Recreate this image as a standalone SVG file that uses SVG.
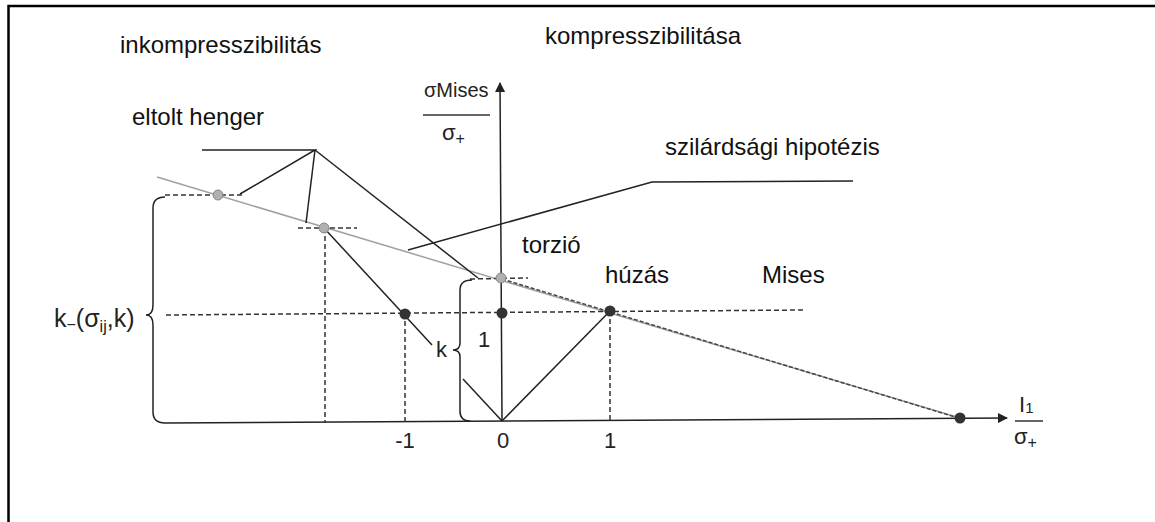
<svg xmlns="http://www.w3.org/2000/svg" width="1155" height="522" viewBox="0 0 1155 522">
<defs>
<style>
.t{font-family:"Liberation Sans",Arial,sans-serif;font-size:24px;fill:#111}
.m{font-family:"Liberation Sans",Arial,sans-serif;font-size:22px;fill:#222}
.s{stroke:#222;stroke-width:1.5;fill:none}
.d{stroke:#333;stroke-width:1.5;fill:none;stroke-dasharray:5 3}
.g{stroke:#a0a0a0;stroke-width:1.5;fill:none}
.dot{fill:#333}
.gdot{fill:#b0b0b0;stroke:#888;stroke-width:1}
</style>
<marker id="arr" viewBox="0 0 10 10" refX="9" refY="5" markerWidth="12" markerHeight="10" markerUnits="userSpaceOnUse" orient="auto">
<path d="M0,0 L10,5 L0,10 z" fill="#222"/>
</marker>
</defs>
<rect width="1155" height="522" fill="#fff"/>
<path d="M8.5 522 V6 H1155" stroke="#000" stroke-width="2.5" fill="none"/>

<g id="connectors">
<line class="s" x1="165" y1="423" x2="1007" y2="418" marker-end="url(#arr)"/>
<line class="s" x1="502" y1="421" x2="500" y2="83" marker-end="url(#arr)"/>
<line class="g" x1="157" y1="177" x2="960" y2="418"/>
<line stroke="#444" stroke-width="1.5" stroke-dasharray="4 2" x1="502" y1="279" x2="955" y2="417"/>
<line class="d" x1="166" y1="315" x2="803" y2="310"/>
<line class="d" x1="165" y1="195" x2="243" y2="195"/>
<line class="d" x1="298" y1="228" x2="357" y2="228"/>
<line class="d" x1="470" y1="279" x2="528" y2="278"/>
<line class="d" x1="325" y1="228" x2="325" y2="423"/>
<line class="d" x1="405" y1="313" x2="405" y2="422"/>
<line class="d" x1="610" y1="311" x2="610" y2="421"/>
<polyline class="s" points="202,150 315,150 240,194"/>
<line class="s" x1="315" y1="150" x2="306" y2="223"/>
<line class="s" x1="315" y1="150" x2="478" y2="278"/>
<polyline class="s" points="408,250 652,182 853,181"/>
<line class="s" x1="324" y1="228" x2="432" y2="345"/>
<line class="s" x1="463" y1="379" x2="502" y2="421"/>
<line class="s" x1="502" y1="421" x2="610" y2="311"/>
<path class="s" d="M165 197 Q153 197 153 208 L153 305 Q153 315 146 315 Q153 315 153 325 L153 412 Q153 423 165 423"/>
<path class="s" d="M472 280 Q460 280 460 290 L460 343 Q460 350 453 350 Q460 350 460 357 L460 411 Q460 421 470 421"/>
</g>

<g id="points">
<circle class="gdot" cx="218" cy="195" r="5"/>
<circle class="gdot" cx="324" cy="228" r="5"/>
<circle class="gdot" cx="501" cy="278" r="5"/>
<circle class="dot" cx="405" cy="314" r="5.5"/>
<circle class="dot" cx="502" cy="313" r="5.5"/>
<circle class="dot" cx="610" cy="311" r="5.5"/>
<circle class="dot" cx="960" cy="418" r="5.5"/>
</g>

<g id="labels">
<text class="t" x="120" y="53">inkompresszibilitás</text>
<text class="t" x="545" y="44">kompresszibilitása</text>
<text class="t" x="132" y="125">eltolt henger</text>
<text class="t" x="665" y="155">szilárdsági hipotézis</text>
<text class="t" x="522" y="253">torzió</text>
<text class="t" x="605" y="283">húzás</text>
<text class="t" x="762" y="283">Mises</text>
</g>

<g id="axis-labels">
<text class="m" x="424" y="97" style="font-size:20px">σMises</text>
<line x1="423" y1="115" x2="490" y2="115" stroke="#333" stroke-width="1.5"/>
<text class="m" x="442" y="140">σ<tspan font-size="16" dy="4">+</tspan></text>
<text class="m" x="1019" y="412">I<tspan font-size="15" dy="1">1</tspan></text>
<line x1="1015" y1="421" x2="1043" y2="421" stroke="#333" stroke-width="1.5"/>
<text class="m" x="1014" y="444">σ<tspan font-size="16" dy="4">+</tspan></text>
<text class="m" x="405" y="448" text-anchor="middle">-1</text>
<text class="m" x="503" y="448" text-anchor="middle">0</text>
<text class="m" x="610" y="448" text-anchor="middle">1</text>
<text class="m" x="436" y="357">k</text>
<text class="m" x="478" y="347">1</text>
<text class="m" x="54" y="327" style="font-size:25px">k<tspan font-size="16" dy="3">−</tspan><tspan dy="-3">(σ</tspan><tspan font-size="16" dy="5">ij</tspan><tspan dy="-5">,k)</tspan></text>
</g>
</svg>
